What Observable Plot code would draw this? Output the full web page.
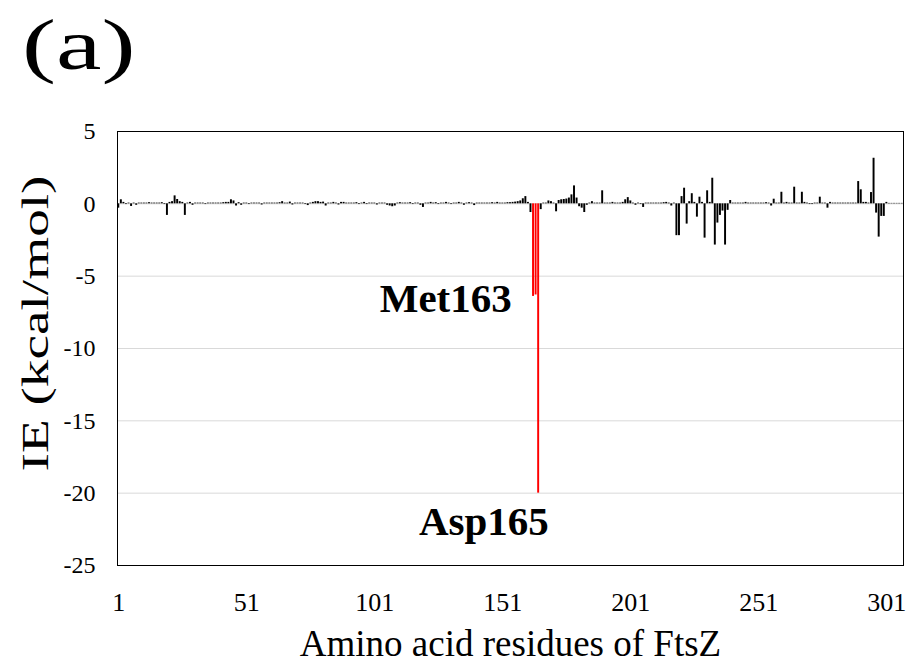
<!DOCTYPE html>
<html><head><meta charset="utf-8">
<script src="https://cdn.jsdelivr.net/npm/d3@7"></script>
<script src="https://cdn.jsdelivr.net/npm/@observablehq/plot@0.6"></script>
<style>
body{margin:0;background:#fff;}
#wrap{position:relative;width:911px;height:663px;}
#wrap svg{position:absolute;left:0;top:0;}
#panel{position:absolute;left:22px;top:4px;font-family:"Liberation Serif";font-size:72px;line-height:1.15;z-index:2;transform:scaleX(1.42);transform-origin:left top;white-space:nowrap;}
</style></head><body>
<div id="wrap"><div id="panel">(a)</div></div>
<script>
const residues = d3.range(1, 308);
const ie = [
-0.30, 0.28, 0.10, -0.05, 0.05, -0.18, 0.05, -0.10, 0.05, 0.05,
0.05, 0.05, 0.08, 0.05, 0.05, 0.05, 0.05, 0.08, -0.05, -0.80,
0.10, 0.15, 0.55, 0.30, 0.15, 0.10, -0.80, 0.05, 0.10, -0.10,
0.05, 0.05, 0.05, 0.05, -0.05, 0.05, 0.05, 0.05, 0.05, 0.05,
0.05, 0.08, 0.10, 0.10, 0.28, 0.20, -0.15, 0.08, -0.10, 0.05,
0.05, -0.05, 0.05, 0.05, 0.05, 0.05, -0.08, 0.05, 0.05, 0.05,
0.05, 0.05, 0.05, 0.08, 0.15, 0.05, 0.05, 0.12, -0.08, 0.05,
0.05, 0.05, 0.05, -0.05, -0.12, 0.05, 0.10, 0.15, 0.15, 0.10,
0.12, -0.15, 0.05, 0.05, 0.10, 0.05, -0.08, 0.10, 0.10, 0.05,
0.05, 0.05, 0.05, 0.08, -0.05, 0.05, 0.10, -0.05, 0.05, 0.05,
0.05, -0.08, 0.05, 0.05, 0.05, -0.10, -0.15, -0.20, -0.15, 0.05,
0.08, 0.05, 0.05, 0.05, 0.08, -0.05, 0.05, 0.05, -0.10, -0.25,
0.05, 0.05, 0.10, 0.05, 0.08, -0.05, 0.05, 0.05, 0.10, 0.05,
-0.05, 0.05, 0.05, 0.10, 0.05, -0.10, 0.05, 0.08, 0.05, -0.12,
0.05, 0.05, 0.05, 0.05, 0.05, 0.05, 0.08, 0.05, 0.10, 0.05,
0.05, 0.05, 0.08, 0.08, 0.10, 0.12, 0.15, 0.20, 0.35, 0.50,
0.10, -0.60, -6.40, -6.30, -20.0, -0.40, 0.05, 0.05, 0.20, 0.15,
0.05, -0.55, 0.23, 0.28, 0.30, 0.33, 0.40, 0.62, 1.24, 0.40,
-0.20, -0.30, -0.60, -0.10, 0.05, 0.15, 0.05, 0.05, 0.05, 0.90,
0.05, 0.05, 0.05, 0.10, 0.05, 0.05, 0.05, 0.10, 0.28, 0.43,
0.20, 0.05, -0.10, 0.05, -0.05, -0.25, 0.05, 0.05, 0.05, 0.05,
0.05, 0.05, 0.05, 0.08, 0.10, 0.05, -0.15, 0.05, -2.20, -2.20,
0.50, 1.08, -1.40, 0.15, 0.70, 0.10, -0.92, 0.46, 0.10, -2.37,
0.90, 0.10, 1.77, -2.85, -1.33, -0.80, -0.50, -2.85, -0.45, 0.23,
0.05, 0.05, 0.05, 0.05, 0.05, 0.10, 0.05, 0.05, 0.05, 0.05,
0.05, 0.05, 0.05, 0.08, 0.05, -0.15, 0.32, 0.05, 0.05, 0.80,
0.05, 0.10, 0.05, 0.05, 1.15, 0.05, 0.05, 0.80, 0.10, 0.05,
-0.05, -0.05, 0.05, 0.05, 0.46, 0.05, 0.05, -0.30, 0.10, 0.05,
0.05, 0.05, 0.05, 0.05, 0.05, 0.05, 0.05, 0.05, 0.05, 1.54,
0.97, 0.10, 0.10, 0.05, 0.78, 3.15, -0.64, -2.30, -0.87, -0.87,
0.10, 0.03, 0.03, 0.03, 0.03, 0.03, 0.03
];
const highlighted = [163, 164, 165];
const yTicks = [5, 0, -5, -10, -15, -20, -25];
const xTicks = [1, 51, 101, 151, 201, 251, 301];
const labelsEnd = [{label: "Met163", x: 154.5, y: -6.6}];
const labelsMid = [{label: "Asp165", x: 143.6, y: -22.0}];
const xTitle = ["Amino acid residues of FtsZ"];
const yTitle = ["IE (kcal/mol)"];

const data = residues.map((r, i) => ({r, v: ie[i], hl: highlighted.includes(r)}));
const serif = "'Liberation Serif', 'Times New Roman', serif";

const chart = Plot.plot({
  width: 911, height: 663,
  marginTop: 131, marginBottom: 98, marginLeft: 117, marginRight: 8,
  x: {domain: [0.5, 307.5]},
  y: {domain: [-25, 5]},
  style: {fontFamily: serif, background: "transparent", color: "#000"},
  marks: [
    Plot.gridY(yTicks, {stroke: "#d9d9d9", strokeOpacity: 1, strokeWidth: 1}),
    Plot.rect(data.filter(d => !d.hl), {x1: d => d.r - 0.38, x2: d => d.r + 0.38, y1: 0, y2: "v", fill: "#000"}),
    Plot.rect(data.filter(d => d.hl), {x1: d => d.r - 0.38, x2: d => d.r + 0.38, y1: 0, y2: "v", fill: "#ff0000"}),
    Plot.frame({stroke: "#000", strokeWidth: 1}),
    Plot.axisY(yTicks, {tickSize: 0, tickPadding: 22, fontSize: 24, tickFormat: d => String(d), label: null}),
    Plot.axisX(xTicks, {tickSize: 0, tickPadding: 27, fontSize: 26, tickFormat: d => String(d), label: null}),
    Plot.text(labelsEnd, {x: "x", y: "y", text: "label", textAnchor: "end", fontWeight: "bold", fontSize: 41, lineAnchor: "middle"}),
    Plot.text(labelsMid, {x: "x", y: "y", text: "label", textAnchor: "middle", fontWeight: "bold", fontSize: 41, lineAnchor: "middle"}),
    Plot.text(xTitle, {text: d => d, frameAnchor: "bottom", dy: 79, fontSize: 37, lineAnchor: "middle", textAnchor: "middle"}),
    Plot.text(yTitle, {text: d => d, frameAnchor: "left", dx: -82, dy: -25, rotate: -90, fontSize: 38, lineAnchor: "middle", textAnchor: "middle"})
  ]
});
d3.select(chart).selectAll("text")
  .filter(function() { return this.textContent === yTitle[0]; })
  .attr("textLength", 296)
  .attr("lengthAdjust", "spacingAndGlyphs");
document.getElementById("wrap").appendChild(chart);
</script>
</body></html>
